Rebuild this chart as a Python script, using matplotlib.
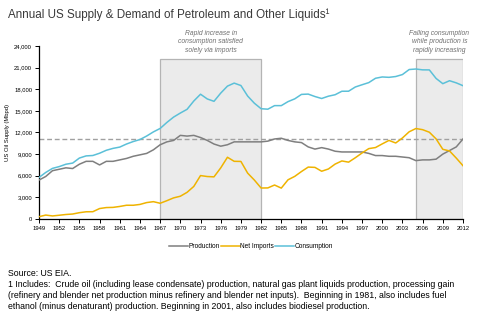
import numpy as np
import matplotlib
matplotlib.use("Agg")
from matplotlib import pyplot as plt
from matplotlib.patches import Rectangle
from matplotlib.ticker import FuncFormatter

plt.rcParams['font.family'] = ['Liberation Sans', 'DejaVu Sans']

years = list(range(1949, 2013))

# thousand barrels per day
production = [5400, 5900, 6700, 6900, 7100, 7000, 7600, 8000, 8000, 7500,
              8000, 8000, 8200, 8400, 8700, 8900, 9100, 9600, 10300, 10700,
              10900, 11600, 11500, 11600, 11300, 10900, 10400, 10100, 10300, 10700,
              10700, 10700, 10700, 10700, 10800, 11100, 11200, 10900, 10700, 10600,
              10000, 9700, 9900, 9700, 9400, 9300, 9300, 9300, 9300, 9100,
              8800, 8800, 8700, 8700, 8600, 8500, 8100, 8200, 8200, 8300,
              9000, 9500, 10000, 11100]
net_imports = [321, 548, 426, 523, 627, 692, 878, 1003, 1014, 1452,
               1588, 1613, 1742, 1909, 1907, 2023, 2281, 2405, 2185, 2542,
               2931, 3161, 3701, 4519, 6025, 5892, 5846, 7090, 8565, 8002,
               7985, 6365, 5401, 4298, 4312, 4715, 4286, 5439, 5914, 6587,
               7202, 7161, 6626, 6938, 7618, 8054, 7886, 8498, 9158, 9764,
               9912, 10419, 10900, 10546, 11238, 12097, 12549, 12390, 12036, 11114,
               9667, 9441, 8450, 7393]
consumption = [5763, 6458, 7021, 7270, 7599, 7756, 8455, 8753, 8808, 9123,
               9534, 9797, 9976, 10400, 10743, 11023, 11512, 12084, 12560, 13393,
               14137, 14697, 15213, 16367, 17308, 16653, 16322, 17461, 18431, 18847,
               18513, 17056, 16058, 15296, 15231, 15726, 15726, 16281, 16665, 17283,
               17325, 16988, 16714, 17033, 17237, 17718, 17725, 18309, 18620, 18917,
               19519, 19701, 19649, 19761, 20034, 20731, 20802, 20687, 20680, 19498,
               18771, 19180, 18882, 18490]
ref_level = 11100
shade_periods = [(1967, 1982), (2005, 2012)]
shade_top = 22200
notes = ["Rapid increase in\nconsumption satisfied\nsolely via imports",
         "Falling consumption\nwhile production is\nrapidly increasing"]

fig = plt.figure(figsize=(4.84, 3.29), dpi=100)
ax = fig.add_axes([0.0806, 0.3343, 0.876, 0.526])

for (a, b), note in zip(shade_periods, notes):
    ax.add_patch(Rectangle((a, 0), b - a, shade_top, facecolor='#ebebeb',
                           edgecolor='#b4b4b4', linewidth=0.9, zorder=0))
    ax.text((a + b) / 2, 22900, note, ha='center', va='bottom', fontsize=4.9,
            style='italic', color='#707070', linespacing=1.3, clip_on=False)

ax.axhline(ref_level, color='#a0a0a0', linestyle=(0, (3.5, 2)), linewidth=1.0, zorder=1)

ax.plot(years, production, color='#7f7f7f', linewidth=1.1, label='Production', zorder=3)
ax.plot(years, net_imports, color='#efb300', linewidth=1.1, label='Net Imports', zorder=3)
ax.plot(years, consumption, color='#5bc0d8', linewidth=1.1, label='Consumption', zorder=3)

ax.set_xlim(1949, 2012)
ax.set_ylim(0, 24000)
ax.set_xticks(range(1949, 2013, 3))
ax.set_yticks(range(0, 24001, 3000))
ax.yaxis.set_major_formatter(FuncFormatter(lambda v, p: f"{int(v):,}"))
ax.tick_params(labelsize=4.2, length=3, width=0.7, colors='black', pad=2)
for s in ['top', 'right']:
    ax.spines[s].set_visible(False)
for s in ['left', 'bottom']:
    ax.spines[s].set_linewidth(0.9)
ax.set_ylabel('US Oil Supply (Mbpd)', fontsize=4.2, labelpad=3)

ax.legend(loc='upper center', bbox_to_anchor=(0.5, -0.125), ncol=3, frameon=False,
          fontsize=4.7, handlelength=2.9, handletextpad=0.1, columnspacing=0.2,
          borderaxespad=0)

fig.text(0.017, 0.955, 'Annual US Supply & Demand of Petroleum and Other Liquids\u00b9',
         fontsize=8.4, color='#3a3a3a', va='center')
fig.text(0.017, 0.17, 'Source: US EIA.', fontsize=6.3, color='black', va='center')
fig.text(0.017, 0.148,
         '1 Includes:  Crude oil (including lease condensate) production, natural gas plant liquids production, processing gain\n'
         '(refinery and blender net production minus refinery and blender net inputs).  Beginning in 1981, also includes fuel\n'
         'ethanol (minus denaturant) production. Beginning in 2001, also includes biodiesel production.',
         fontsize=6.3, color='black', va='top', linespacing=1.25)

fig.savefig('out.png', dpi=100)
